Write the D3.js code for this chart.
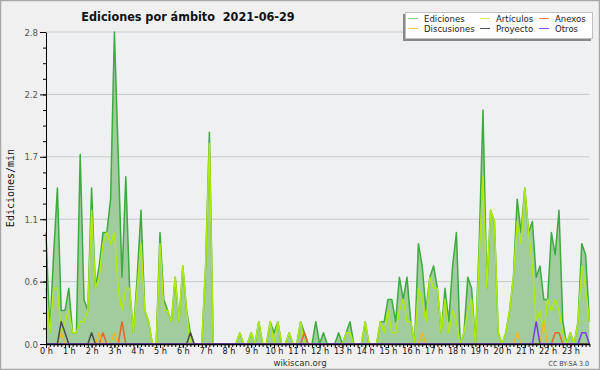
<!DOCTYPE html>
<html>
<head>
<meta charset="utf-8">
<script src="https://cdn.jsdelivr.net/npm/d3@7"></script>
<style>
  body { margin: 0; background: #f0f0f0; }
  svg { display: block; }
</style>
</head>
<body>
<svg id="chart" width="600" height="370"></svg>
<script>
// one value every 10 minutes, 00:00 .. 23:50 (edits per minute)
let ediciones = [
  1.0,0.1,0.8,1.4,0.3,0.3,0.5,0.1,0.1,1.7,0.4,0.3,
  1.4,0.5,0.7,1.0,1.0,1.3,2.8,1.7,0.6,1.5,0.5,0.1,
  0.6,1.2,0.3,0.2,0,0,1.0,0.4,0.3,0.2,0.6,0.2,
  0.7,0.3,0.1,0,0,0,0.7,1.9,0,0,0,0,
  0,0,0,0.1,0,0,0.1,0,0.2,0,0,0.2,
  0.1,0.2,0,0,0.1,0,0,0.2,0.1,0,0,0.2,
  0,0.1,0,0,0,0.1,0,0.1,0.2,0,0,0,
  0.2,0,0,0,0.2,0.2,0.4,0.4,0.2,0.6,0.4,0.6,
  0.2,0,0.9,0.7,0.3,0.6,0.7,0.5,0.1,0.5,0.2,0.7,
  1.0,0,0.1,0.6,0.5,0,0.9,2.1,0.5,1.2,1.1,0.1,
  0,0.1,0.3,0.6,1.3,1.0,1.4,1.0,1.1,0.6,0.7,0.4,
  0.4,1.0,0.8,1.2,0.2,0,0.1,0,0.2,0.9,0.8,0.2
];
let articulos = [
  0.5,0.1,0.5,0.5,0.1,0.2,0.3,0.1,0.1,0.2,0.2,0.3,
  1.2,0.5,0.6,0.9,1.0,0.9,1.0,0.5,0.3,0.5,0.5,0.1,
  0.5,0.9,0.3,0.2,0,0,0.9,0.3,0.3,0.2,0.6,0.2,
  0.7,0.3,0,0,0,0,0.7,1.8,0,0,0,0,
  0,0,0,0.1,0,0,0.1,0,0.2,0,0,0.2,
  0,0.2,0,0,0.1,0,0,0.2,0,0,0,0,
  0,0,0,0,0,0,0,0.1,0.1,0,0,0,
  0.2,0,0,0,0.2,0.1,0.3,0.1,0.1,0.3,0.4,0.2,
  0.2,0,0.5,0.4,0.2,0.6,0.5,0.5,0.1,0.4,0.1,0.3,
  0.2,0,0.1,0.3,0.4,0,0.8,1.5,0.5,1.2,1.1,0.1,
  0,0.1,0.3,0.6,1.1,0.9,1.4,1.0,0.7,0.2,0.3,0.1,
  0.4,0.3,0.4,0.3,0.1,0,0.1,0,0.2,0.7,0.5,0.2
];
let anexos = [
  0,0,0,0,0,0,0,0,0,0,0,0,
  0,0,0,0.1,0,0,0,0,0.2,0,0,0,
  0,0,0,0,0,0,0,0,0,0,0,0,
  0,0,0,0,0,0,0,0,0,0,0,0,
  0,0,0,0,0,0,0,0,0,0,0,0,
  0,0,0,0,0,0,0,0,0.1,0,0,0,
  0,0,0,0,0,0,0,0,0,0,0,0,
  0,0,0,0,0,0,0,0,0,0,0,0,
  0,0,0,0,0,0,0,0,0,0,0,0,
  0,0,0,0,0,0,0,0,0,0,0,0,
  0,0,0,0,0,0,0,0,0,0,0,0,
  0,0,0.1,0.1,0,0,0,0,0,0,0,0
];
let discusiones = [
  0,0,0,0,0.1,0,0,0,0,0,0,0,
  0,0,0.1,0,0,0,0.1,0,0,0,0,0,
  0,0,0,0,0,0,0,0,0,0,0,0,
  0,0,0,0,0,0,0,0,0,0,0,0,
  0,0,0,0,0,0,0,0,0,0,0,0,
  0,0,0,0,0,0,0,0,0,0,0,0,
  0,0,0,0,0,0,0,0,0,0,0,0,
  0,0,0,0,0,0,0,0,0,0,0,0,
  0,0,0,0.1,0,0,0,0,0,0,0,0,
  0,0,0,0,0,0,0,0,0,0,0,0,
  0,0,0,0,0.1,0,0,0,0,0,0,0.2,
  0,0,0,0,0,0,0,0,0,0,0,0
];
let proyecto = [
  0,0,0,0,0.2,0.1,0,0,0,0,0,0,
  0.1,0,0,0,0,0,0,0,0,0,0,0,
  0,0,0,0,0,0,0,0,0,0,0,0,
  0,0,0.1,0,0,0,0,0,0,0,0,0,
  0,0,0,0,0,0,0,0,0,0,0,0,
  0,0,0,0,0,0,0,0,0,0,0,0,
  0,0,0,0,0,0,0,0,0,0,0,0,
  0,0,0,0,0,0,0,0,0,0,0,0,
  0,0,0,0,0,0,0,0,0,0,0,0,
  0,0,0,0,0,0,0,0,0,0,0,0,
  0,0,0,0,0,0,0,0,0,0,0,0,
  0,0,0,0,0,0,0,0,0,0,0,0
];
let otros = [
  0,0,0,0,0,0,0,0,0,0,0,0,
  0,0,0,0,0,0,0,0,0,0,0,0,
  0,0,0,0,0,0,0,0,0,0,0,0,
  0,0,0,0,0,0,0,0,0,0,0,0,
  0,0,0,0,0,0,0,0,0,0,0,0,
  0,0,0,0,0,0,0,0,0,0,0,0,
  0,0,0,0,0,0,0,0,0,0,0,0,
  0,0,0,0,0,0,0,0,0,0,0,0,
  0,0,0,0,0,0,0,0,0,0,0,0,
  0,0,0,0,0,0,0,0,0,0,0,0,
  0,0,0,0,0,0,0,0,0,0.2,0,0,
  0,0,0,0,0,0,0,0,0,0.1,0.1,0
];
let hourLabels = ['0 h','1 h','2 h','3 h','4 h','5 h','6 h','7 h','8 h','9 h','10 h','11 h',
                  '12 h','13 h','14 h','15 h','16 h','17 h','18 h','19 h','20 h','21 h','22 h','23 h'];
let yTicks = [0, 0.56, 1.12, 1.68, 2.24, 2.8];

let series = [
  {name: 'Ediciones', values: ediciones, color: '#3dab3d', key: '#8fd18f'},
  {name: 'Artículos', values: articulos, color: '#b0ea10', key: '#c8ee5a'},
  {name: 'Anexos', values: anexos, color: '#e8662a', key: '#f08050'},
  {name: 'Discusiones', values: discusiones, color: '#f0b820', key: '#f5cc50'},
  {name: 'Proyecto', values: proyecto, color: '#4a4a4a', key: '#555555'},
  {name: 'Otros', values: otros, color: '#7a3ee8', key: '#9050f0'}
];

let svg = d3.select('#chart');
let cond = '"DejaVu Sans Condensed", "DejaVu Sans", sans-serif';

svg.append('rect')
    .attr('x', 0.5).attr('y', 0.5)
    .attr('width', 599).attr('height', 369)
    .attr('fill', '#f0f0f0')
    .attr('stroke', '#a8a8a8')
    .attr('stroke-width', 1.5);

let x = d3.scaleLinear().domain([0, 143]).range([46, 589.4]);
let y = d3.scaleLinear().domain([0, 2.8]).range([344, 32]);

svg.append('rect')
    .attr('x', 46).attr('y', 32)
    .attr('width', 543.4).attr('height', 312)
    .attr('fill', '#eef0f2');

// grid
svg.selectAll('.grid')
    .data(yTicks.slice(1))
    .enter()
    .append('line')
    .attr('x1', 46).attr('x2', 589.4)
    .attr('y1', (d) => y(d)).attr('y2', (d) => y(d))
    .attr('stroke', '#c9c9c9')
    .attr('stroke-width', 1);

// Ediciones filled area
let area = d3.area()
    .x((d, i) => x(i))
    .y0(y(0))
    .y1((d) => y(d));
svg.append('path')
    .datum(ediciones)
    .attr('d', area)
    .attr('fill', '#a0cc9e');

let line = d3.line()
    .x((d, i) => x(i))
    .y((d) => y(d));

series.forEach((s) => {
  svg.append('path')
      .datum(s.values)
      .attr('d', line)
      .attr('fill', 'none')
      .attr('stroke', s.color)
      .attr('stroke-width', 1.5)
      .attr('stroke-linejoin', 'round');
});

// y axis
let yAxis = d3.axisLeft(y)
    .tickValues(yTicks)
    .tickFormat(d3.format('.1f'))
    .tickSize(6)
    .tickSizeOuter(0);
let gy = svg.append('g').attr('transform', 'translate(46,0)').call(yAxis);
gy.selectAll('text')
    .attr('font-family', cond)
    .attr('font-size', 9.5)
    .attr('fill', '#555')
    .attr('x', -8);
gy.select('.domain').attr('stroke', '#000');

svg.append('g')
    .attr('transform', 'translate(46,0)')
    .call(d3.axisLeft(y).tickValues(d3.range(0, 21).map((k) => k * 0.14)).tickFormat('').tickSize(3).tickSizeOuter(0))
    .select('.domain').remove();

// x axis
let hourTicks = hourLabels.map((d, h) => h * 6);
let xAxis = d3.axisBottom(x)
    .tickValues(hourTicks)
    .tickFormat((d, k) => hourLabels[k])
    .tickSize(4)
    .tickSizeOuter(0);
let gx = svg.append('g').attr('transform', 'translate(0,344)').call(xAxis);
gx.selectAll('text')
    .attr('font-family', cond)
    .attr('font-size', 9)
    .attr('fill', '#111')
    .attr('y', 4);
gx.select('.domain').attr('stroke', '#000').attr('stroke-width', 1.5);

svg.append('g')
    .attr('transform', 'translate(0,344)')
    .call(d3.axisBottom(x).tickValues(d3.range(0, 144)).tickFormat('').tickSize(3).tickSizeOuter(0))
    .select('.domain').remove();

// title
svg.append('text')
    .attr('x', 188).attr('y', 21)
    .attr('text-anchor', 'middle')
    .attr('font-family', cond)
    .attr('font-weight', 'bold')
    .attr('font-size', 12.5)
    .attr('fill', '#111')
    .attr('xml:space', 'preserve')
    .text('Ediciones por ámbito  2021-06-29');

// y title
svg.append('text')
    .attr('transform', 'translate(14,188) rotate(-90)')
    .attr('text-anchor', 'middle')
    .attr('font-family', '"DejaVu Sans Mono", monospace')
    .attr('font-size', 10)
    .attr('fill', '#111')
    .text('Ediciones/min');

// footer
svg.append('text')
    .attr('x', 300).attr('y', 366)
    .attr('text-anchor', 'middle')
    .attr('font-family', cond)
    .attr('font-size', 9.5)
    .attr('fill', '#333')
    .text('wikiscan.org');
svg.append('text')
    .attr('x', 589).attr('y', 366)
    .attr('text-anchor', 'end')
    .attr('font-family', cond)
    .attr('font-size', 7)
    .attr('fill', '#444')
    .text('CC BY-SA 3.0');

// legend
svg.append('rect')
    .attr('x', 403).attr('y', 14)
    .attr('width', 188).attr('height', 27)
    .attr('fill', '#888');
svg.append('rect')
    .attr('x', 405.5).attr('y', 12.5)
    .attr('width', 187).attr('height', 26)
    .attr('fill', '#fff')
    .attr('stroke', '#c0c0c0');

let legendPos = [
  [408, 22], [480, 22], [539, 22],
  [408, 32], [480, 32], [539, 32]
];
let legendOrder = [0, 1, 2, 3, 4, 5];
let lg = svg.selectAll('.leg')
    .data(legendOrder)
    .enter()
    .append('g')
    .attr('transform', (d, k) => 'translate(' + legendPos[k][0] + ',' + legendPos[k][1] + ')');
lg.append('line')
    .attr('x1', 0).attr('x2', 10)
    .attr('y1', -3.5).attr('y2', -3.5)
    .attr('stroke', (d) => series[d].key)
    .attr('stroke-width', 1);
lg.append('text')
    .attr('x', 16).attr('y', 0)
    .attr('font-family', cond)
    .attr('font-size', 9.5)
    .attr('fill', '#222')
    .text((d) => series[d].name);
</script>
</body>
</html>
